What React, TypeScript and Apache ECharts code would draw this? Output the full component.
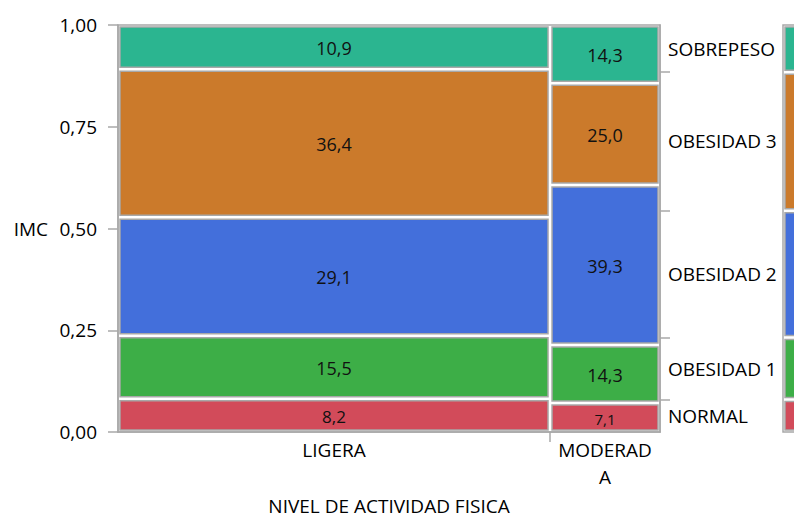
import React, { useEffect, useRef } from 'react';
import * as echarts from 'echarts';

// ---- data ----
const activityLevels = ['LIGERA', 'MODERADA'];
const levelCounts = [110, 28];
const imcCategories = ['NORMAL', 'OBESIDAD 1', 'OBESIDAD 2', 'OBESIDAD 3', 'SOBREPESO'];
const ligeraPct = [8.2, 15.5, 29.1, 36.4, 10.9];
const moderadaPct = [7.1, 14.3, 39.3, 25.0, 14.3];
const yTickValues = [0, 0.25, 0.5, 0.75, 1];
const categoryColors = ['#D24B5A', '#3DAE47', '#436FDB', '#CB7A2B', '#2BB590'];

const pctByLevel = [ligeraPct, moderadaPct];
const FONT = "'Open Sans', 'Noto Sans', sans-serif";
const GRAY = '#A8A8A8';

const total = levelCounts.reduce((a, b) => a + b, 0);

// mosaic cells: [x0, x1, y0, y1, pct, catIndex]
const cells: number[][] = [];
const levelMids: number[] = [];
const levelBounds: number[] = [];
{
  let xs = 0;
  levelCounts.forEach((n, li) => {
    const pcts = pctByLevel[li];
    const sum = pcts.reduce((a, b) => a + b, 0);
    let ys = 0;
    pcts.forEach((p, ci) => {
      const ye = ys + p / sum;
      cells.push([xs, xs + n, ys, ye, p, ci]);
      ys = ye;
    });
    levelMids.push(xs + n / 2);
    xs += n;
    if (xs < total) levelBounds.push(xs);
  });
}

// overall marginal proportions
const overall = imcCategories.map((_, ci) => {
  let s = 0;
  levelCounts.forEach((n, li) => {
    const pcts = pctByLevel[li];
    const sum = pcts.reduce((a, b) => a + b, 0);
    s += (pcts[ci] / sum) * n;
  });
  return s / total;
});
const overallCells: number[][] = [];
const overallBounds: number[] = [];
const overallMids: number[] = [];
{
  let ys = 0;
  overall.forEach((p, ci) => {
    const ye = ys + p;
    overallCells.push([0, 1, ys, ye, p * 100, ci]);
    overallMids.push((ys + ye) / 2);
    if (ci < overall.length - 1) overallBounds.push(ye);
    ys = ye;
  });
}

const nearestIndex = (arr: number[], v: number) => {
  let best = 0;
  arr.forEach((a, i) => {
    if (Math.abs(a - v) < Math.abs(arr[best] - v)) best = i;
  });
  return best;
};

const makeRender = (withLabels: boolean) => (params: any, api: any) => {
  const x0 = api.value(0);
  const x1 = api.value(1);
  const y0 = api.value(2);
  const y1 = api.value(3);
  const pct = api.value(4);
  const ci = api.value(5);
  const tl = api.coord([x0, y1]);
  const br = api.coord([x1, y0]);
  const inset = 2;
  const x = tl[0] + inset;
  const y = tl[1] + inset;
  const w = br[0] - tl[0] - 2 * inset;
  const h = br[1] - tl[1] - 2 * inset;
  const children: any[] = [
    {
      type: 'rect',
      shape: { x, y, width: w, height: h },
      style: { fill: categoryColors[ci], stroke: GRAY, lineWidth: 1.5 },
    },
  ];
  if (withLabels) {
    const fs = Math.min(18, Math.floor(h / 1.65));
    children.push({
      type: 'text',
      style: {
        text: Number(pct).toFixed(1).replace('.', ','),
        x: x + w / 2,
        y: y + h / 2 + 1,
        align: 'center',
        verticalAlign: 'middle',
        fontSize: fs,
        fontFamily: FONT,
        fill: '#111',
      },
    });
  }
  return { type: 'group', children };
};

export default function App() {
  const ref = useRef<HTMLDivElement>(null);
  useEffect(() => {
    if (!ref.current) return;
    const chart = echarts.init(ref.current, undefined, { renderer: 'svg' });
    chart.setOption({
      animation: false,
      backgroundColor: '#fff',
      textStyle: { fontFamily: FONT },
      grid: [
        { left: 118, right: 134, top: 25, bottom: 86, show: true, borderColor: GRAY, borderWidth: 1.5, backgroundColor: 'transparent', containLabel: false, outerBoundsMode: 'none' },
        { left: 783, width: 60, top: 25, bottom: 86, show: true, borderColor: GRAY, borderWidth: 1.5, backgroundColor: 'transparent', containLabel: false, outerBoundsMode: 'none' },
      ],
      xAxis: [
        {
          type: 'value',
          gridIndex: 0,
          min: 0,
          max: total,
          axisLine: { show: true, lineStyle: { color: GRAY, width: 1.5 } },
          axisTick: { show: true, customValues: levelBounds, length: 10, lineStyle: { color: GRAY, width: 1.5 } },
          axisLabel: {
            customValues: levelMids,
            formatter: (v: number) => activityLevels[nearestIndex(levelMids, v)],
            width: 100,
            overflow: 'breakAll',
            lineHeight: 27,
            fontSize: 19,
            color: '#000',
            margin: 4,
          },
          splitLine: { show: false },
          name: 'NIVEL DE ACTIVIDAD FISICA',
          nameLocation: 'middle',
          nameGap: 64,
          nameTextStyle: { fontSize: 19, color: '#000' },
        },
        { type: 'value', gridIndex: 1, min: 0, max: 1, show: false },
      ],
      yAxis: [
        {
          type: 'value',
          gridIndex: 0,
          min: 0,
          max: 1,
          interval: 0.25,
          axisLine: { show: true, lineStyle: { color: GRAY, width: 1.5 } },
          axisTick: { show: true, length: 10, lineStyle: { color: GRAY, width: 1.5 } },
          axisLabel: {
            customValues: yTickValues,
            formatter: (v: number) => v.toFixed(2).replace('.', ','),
            fontSize: 19,
            color: '#000',
            margin: 21,
          },
          splitLine: { show: false },
          name: 'IMC',
          nameLocation: 'middle',
          nameRotate: 0,
          nameGap: 70,
          nameTextStyle: { fontSize: 19, color: '#000' },
        },
        {
          type: 'value',
          gridIndex: 0,
          position: 'right',
          min: 0,
          max: 1,
          axisLine: { show: true, lineStyle: { color: GRAY, width: 1.5 } },
          axisTick: { show: true, customValues: overallBounds, length: 10, lineStyle: { color: GRAY, width: 1.5 } },
          axisLabel: {
            customValues: overallMids,
            formatter: (v: number) => imcCategories[nearestIndex(overallMids, v)],
            fontSize: 19,
            color: '#000',
            margin: 8,
          },
          splitLine: { show: false },
        },
        { type: 'value', gridIndex: 1, min: 0, max: 1, show: false },
      ],
      series: [
        {
          type: 'custom',
          xAxisIndex: 0,
          yAxisIndex: 0,
          renderItem: makeRender(true),
          data: cells,
          silent: true,
        },
        {
          type: 'custom',
          xAxisIndex: 1,
          yAxisIndex: 2,
          renderItem: makeRender(false),
          data: overallCells,
          silent: true,
        },
      ],
    });
    return () => chart.dispose();
  }, []);
  return (
    <div
      ref={ref}
      style={{ position: 'fixed', left: 0, top: 0, width: 794, height: 518 }}
    />
  );
}
